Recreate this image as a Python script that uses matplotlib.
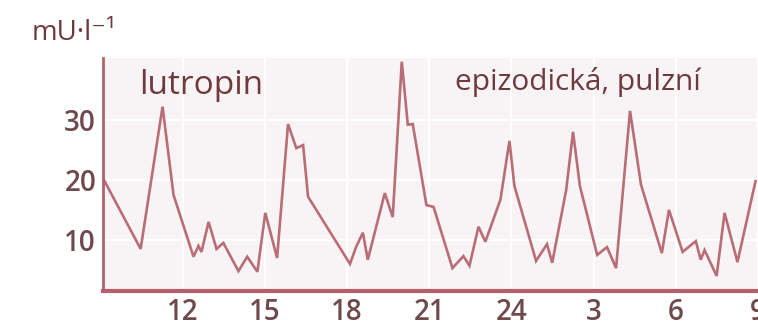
import matplotlib.pyplot as plt

# hours since midnight of day 1 (9 -> 33 = 9 next morning)
hours = [9.13, 10.47, 11.27, 11.67, 12.4, 12.58, 12.69, 12.95, 13.24, 13.49,
         14.04, 14.36, 14.73, 15.02, 15.45, 15.85, 16.15, 16.4, 16.58, 18.11,
         18.33, 18.58, 18.76, 19.38, 19.67, 20.0, 20.22, 20.4, 20.9, 21.16,
         21.85, 22.25, 22.47, 22.8, 23.05, 23.6, 23.93, 24.11, 24.9, 25.3,
         25.49, 26.0, 26.25, 26.5, 27.13, 27.49, 27.82, 28.33, 28.73, 29.49,
         29.75, 30.25, 30.73, 30.91, 31.05, 31.49, 31.78, 32.25, 32.91]
lh = [20.0, 8.5, 32.2, 17.5, 7.2, 9.0, 8.0, 13.0, 8.5, 9.5,
      4.8, 7.2, 4.7, 14.5, 7.0, 29.3, 25.3, 25.8, 17.2, 6.0,
      8.8, 11.2, 6.7, 17.8, 13.8, 39.7, 29.2, 29.3, 15.8, 15.5,
      5.3, 7.3, 5.7, 12.2, 9.7, 16.7, 26.5, 19.0, 6.5, 9.3,
      6.2, 18.3, 28.0, 19.0, 7.5, 8.8, 5.3, 31.5, 19.2, 7.8,
      15.0, 8.0, 9.8, 6.7, 8.3, 4.0, 14.5, 6.3, 19.8]

xticks = [12, 15, 18, 21, 24, 27, 30, 33]
xticklabels = ['12', '15', '18', '21', '24', '3', '6', '9']
yticks = [10, 20, 30]

plt.rcParams['font.family'] = ['Open Sans', 'DejaVu Sans']

line_col = '#b86d77'
spine_col = '#b5606b'
text_col = '#6e3a3e'
tick_col = '#6f4a4d'

fig = plt.figure(figsize=(7.58, 3.28), dpi=100)
ax = fig.add_axes([0.136, 0.113, 0.864, 0.71])
ax.set_facecolor('#f8f4f5')

ax.plot(hours, lh, color=line_col, linewidth=1.9, solid_joinstyle='miter')

ax.set_xlim(9.1, 33.0)
ax.set_ylim(1.5, 40.3)
ax.set_xticks(xticks)
ax.set_xticklabels(xticklabels)
ax.set_yticks(yticks)
ax.tick_params(length=0, labelsize=20, labelcolor=tick_col)
ax.tick_params(axis='x', pad=5)
ax.tick_params(axis='y', pad=5)
for lab in ax.get_xticklabels() + ax.get_yticklabels():
    lab.set_fontweight('semibold')
ax.grid(True, color='white', linewidth=1.5)

for s in ['top', 'right']:
    ax.spines[s].set_visible(False)
ax.spines['left'].set_color(spine_col)
ax.spines['left'].set_linewidth(2)
ax.spines['bottom'].set_color(spine_col)
ax.spines['bottom'].set_linewidth(3)

ax.text(10.4, 34.3, 'lutropin', fontsize=24, color=text_col, fontweight='medium')
ax.text(21.93, 35.0, 'epizodická, pulzní', fontsize=21.5, color=text_col,
        fontweight='medium')
fig.text(0.042, 0.877, 'mU·l⁻¹', fontsize=20, color=text_col, fontweight='medium')

fig.savefig('out.png', dpi=100)
